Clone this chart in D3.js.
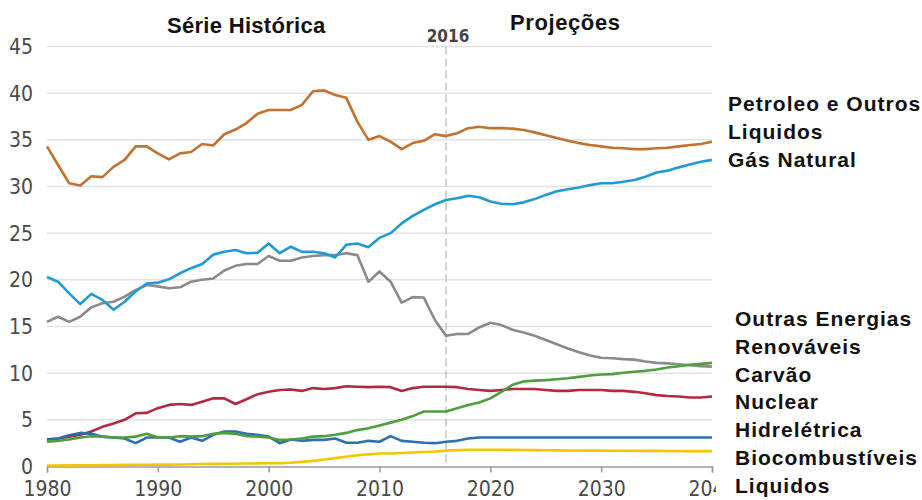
<!DOCTYPE html>
<html><head><meta charset="utf-8">
<script src="https://cdn.jsdelivr.net/npm/d3@7"></script>
<style>
html,body{margin:0;padding:0;background:#fff;}
svg{display:block;}
</style></head>
<body>
<svg id="chart" width="922" height="500"></svg>
<script>
const years = d3.range(1980, 2041);
const yTicks = [0,5,10,15,20,25,30,35,40,45];
const xTicks = [1980,1990,2000,2010,2020,2030,2040];

const petroleo = [34.3,32.3,30.35,30.1,31.1,31.0,32.1,32.85,34.3,34.3,
 33.55,32.9,33.55,33.7,34.55,34.4,35.6,36.1,36.8,37.8,
 38.2,38.2,38.2,38.75,40.2,40.3,39.8,39.5,36.95,35.0,
 35.4,34.8,34.0,34.65,34.9,35.6,35.4,35.7,36.25,36.4,
 36.25,36.25,36.2,36.05,35.8,35.5,35.2,34.9,34.65,34.45,
 34.3,34.15,34.1,34.0,34.0,34.1,34.15,34.3,34.45,34.55,34.8];
const gas = [20.3,19.8,18.55,17.4,18.5,17.85,16.8,17.65,18.75,19.6,
 19.7,20.05,20.7,21.25,21.7,22.7,23.0,23.2,22.85,22.9,
 23.9,22.85,23.55,23.0,23.0,22.85,22.4,23.75,23.9,23.5,
 24.5,25.0,26.05,26.85,27.5,28.1,28.55,28.75,29.0,28.85,
 28.4,28.15,28.1,28.3,28.65,29.1,29.5,29.7,29.9,30.15,
 30.35,30.35,30.5,30.7,31.05,31.5,31.7,32.05,32.35,32.65,32.85];
const carvao = [15.5,16.05,15.5,16.05,17.05,17.5,17.65,18.2,18.9,19.45,
 19.3,19.1,19.2,19.8,20.0,20.15,21.0,21.5,21.7,21.7,
 22.55,22.05,22.05,22.4,22.55,22.65,22.65,22.85,22.65,19.8,
 20.9,19.8,17.55,18.15,18.1,15.7,14.0,14.2,14.2,14.9,
 15.4,15.15,14.65,14.35,14.0,13.55,13.1,12.65,12.25,11.9,
 11.65,11.6,11.5,11.45,11.25,11.1,11.05,10.95,10.85,10.75,10.7];
const nuclear = [2.9,3.0,3.2,3.4,3.75,4.25,4.6,5.0,5.7,5.75,
 6.25,6.6,6.7,6.6,6.95,7.3,7.3,6.7,7.2,7.75,
 8.0,8.2,8.25,8.1,8.4,8.3,8.4,8.6,8.55,8.5,
 8.55,8.5,8.1,8.4,8.55,8.55,8.55,8.5,8.3,8.2,
 8.1,8.2,8.3,8.3,8.3,8.2,8.1,8.1,8.2,8.2,
 8.2,8.1,8.1,8.0,7.85,7.65,7.55,7.5,7.4,7.4,7.5];
const hidreletrica = [2.9,3.0,3.35,3.6,3.5,3.2,3.1,3.0,2.5,3.1,
 3.1,3.1,2.65,3.1,2.75,3.4,3.75,3.75,3.5,3.4,
 3.2,2.5,2.9,2.75,2.85,2.85,3.0,2.55,2.55,2.75,
 2.65,3.25,2.75,2.65,2.55,2.5,2.65,2.75,3.0,3.1,
 3.1,3.1,3.1,3.1,3.1,3.1,3.1,3.1,3.1,3.1,
 3.1,3.1,3.1,3.1,3.1,3.1,3.1,3.1,3.1,3.1,3.1];
const renovaveis = [2.65,2.75,2.9,3.1,3.25,3.2,3.1,3.1,3.2,3.5,
 3.1,3.1,3.25,3.2,3.25,3.5,3.6,3.5,3.25,3.2,
 3.1,2.85,2.9,3.0,3.2,3.25,3.4,3.6,3.9,4.1,
 4.4,4.7,5.0,5.4,5.9,5.9,5.9,6.25,6.6,6.85,
 7.3,8.0,8.75,9.1,9.2,9.25,9.35,9.45,9.6,9.75,
 9.85,9.9,10.05,10.15,10.25,10.4,10.6,10.75,10.9,11.0,11.1];
const biocombustiveis = [0.1,0.1,0.12,0.13,0.14,0.15,0.16,0.17,0.18,0.19,
 0.2,0.2,0.22,0.24,0.26,0.28,0.3,0.3,0.32,0.33,
 0.35,0.35,0.4,0.5,0.6,0.75,0.9,1.05,1.2,1.3,
 1.4,1.4,1.45,1.5,1.55,1.6,1.7,1.75,1.8,1.8,
 1.8,1.8,1.78,1.76,1.75,1.74,1.73,1.72,1.71,1.7,
 1.7,1.69,1.68,1.68,1.67,1.67,1.66,1.66,1.65,1.65,1.65];

const seriesNames = ["Carvão","Petroleo e Outros Liquidos","Gás Natural","Nuclear","Hidrelétrica","Outras Energias Renováveis","Biocombustíveis Liquidos"];
const seriesValues = [carvao, petroleo, gas, nuclear, hidreletrica, renovaveis, biocombustiveis];
const seriesColors = ["#8a8a8a","#c2712f","#1e9ad6","#b02a40","#2a6fae","#4f9d3b","#f7c400"];

const legendTop = ["Petroleo e Outros","Liquidos","Gás Natural"];
const legendBottom = ["Outras Energias","Renováveis","Carvão","Nuclear","Hidrelétrica","Biocombustíveis","Liquidos"];

const svg = d3.select("#chart");
const x = d3.scaleLinear().domain([1980, 2040]).range([47, 712]);
const y = d3.scaleLinear().domain([0, 45]).range([466.5, 46.5]);

// gridlines
svg.append("g").selectAll("line").data(yTicks.filter(d => d > 0)).join("line")
  .attr("x1", x(1980)).attr("x2", x(2040))
  .attr("y1", d => y(d)).attr("y2", d => y(d))
  .attr("stroke", "#e2e4e4").attr("stroke-width", 1.5);

// y labels
const axisFont = "'Liberation Sans Narrow','Arial Narrow','DejaVu Sans Condensed',sans-serif";
svg.append("g").selectAll("text").data(yTicks).join("text")
  .attr("x", 33).attr("y", d => y(d)).attr("dy", "0.36em")
  .attr("text-anchor", "end")
  .attr("font-family", axisFont).attr("font-size", 21)
  .attr("fill", "#4a4a4a").text(d => d);

// x axis
const xAxis = d3.axisBottom(x).tickValues(xTicks).tickSize(6).tickFormat(d3.format("d"));
const gx = svg.append("g").attr("transform", `translate(0,${y(0)})`).call(xAxis);
gx.select(".domain").attr("stroke", "#9a9a9a").attr("stroke-width", 1.5);
gx.selectAll(".tick line").attr("stroke", "#9a9a9a").attr("stroke-width", 1.5);
gx.selectAll(".tick text").attr("font-family", axisFont).attr("font-size", 21)
  .attr("fill", "#4a4a4a").attr("y", 15).attr("dy", "0.71em");

// dashed 2016 line
svg.append("line").attr("x1", x(2016)).attr("x2", x(2016))
  .attr("y1", y(45)).attr("y2", y(0))
  .attr("stroke", "#b5b5b5").attr("stroke-width", 1.2).attr("stroke-dasharray", "8,4");

// lines
const line = d3.line().x((d, i) => x(years[i])).y(d => y(d));
svg.append("g").selectAll("path").data(seriesValues).join("path")
  .attr("d", d => line(d))
  .attr("fill", "none")
  .attr("stroke", (d, i) => seriesColors[i])
  .attr("stroke-width", 2.6)
  .attr("stroke-linejoin", "round");

// headers
const boldFont = "'Liberation Sans',Arial,sans-serif";
svg.append("text").attr("x", 167).attr("y", 33).attr("font-family", boldFont)
  .attr("font-weight", "bold").attr("font-size", 22).attr("letter-spacing", 0.3)
  .attr("fill", "#111").text("Série Histórica");
svg.append("text").attr("x", 510).attr("y", 30).attr("font-family", boldFont)
  .attr("font-weight", "bold").attr("font-size", 22).attr("letter-spacing", 0.6)
  .attr("fill", "#111").text("Projeções");
svg.append("text").attr("x", x(2016) + 2).attr("y", 42).attr("text-anchor", "middle")
  .attr("font-family", axisFont).attr("font-weight", "bold").attr("font-size", 17)
  .attr("fill", "#444").text("2016");

// legend panel
svg.append("rect").attr("x", 716).attr("y", 60).attr("width", 206).attr("height", 440).attr("fill", "#fff");
svg.append("g").selectAll("text").data(legendTop).join("text")
  .attr("x", 728).attr("y", (d, i) => 111 + i * 28)
  .attr("font-family", boldFont).attr("font-weight", "bold").attr("font-size", 21)
  .attr("letter-spacing", 1).attr("fill", "#111").text(d => d);
svg.append("g").selectAll("text").data(legendBottom).join("text")
  .attr("x", 735).attr("y", (d, i) => 326 + i * 27.8)
  .attr("font-family", boldFont).attr("font-weight", "bold").attr("font-size", 21)
  .attr("letter-spacing", 1).attr("fill", "#111").text(d => d);
</script>
</body></html>
